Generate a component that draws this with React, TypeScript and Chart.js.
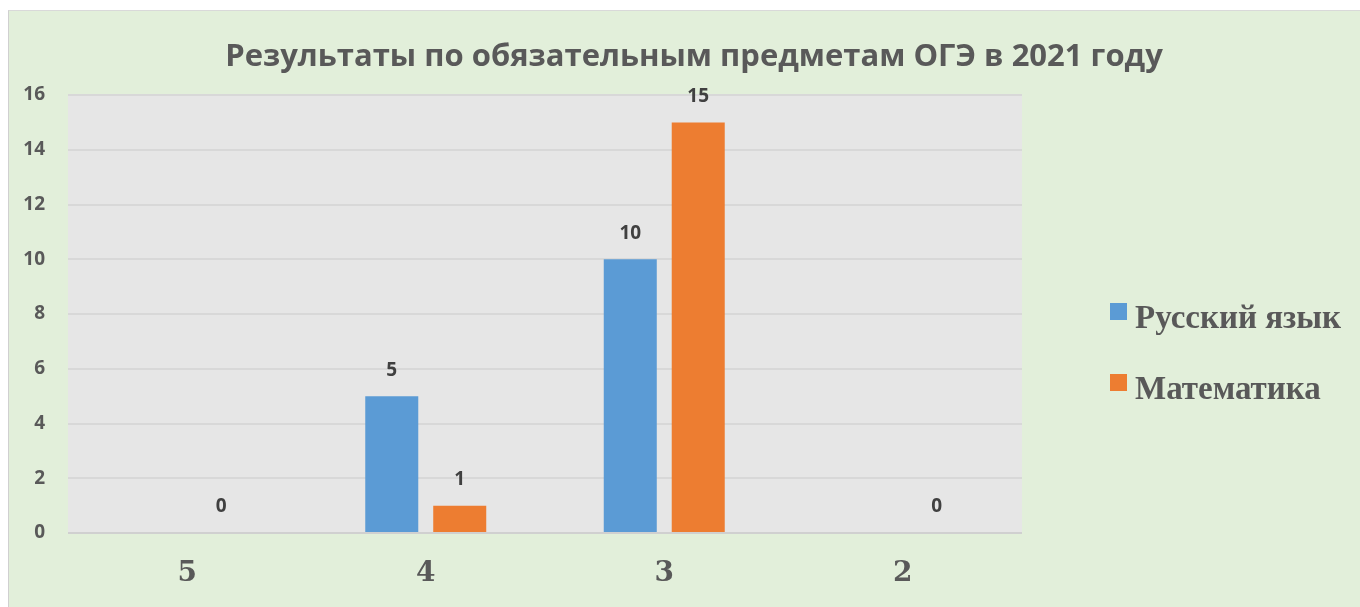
import React, { useEffect, useRef } from "react";
import { Chart, registerables } from "chart.js";

Chart.register(...registerables);

const TITLE = "Результаты по обязательным предметам ОГЭ в 2021 году";
const categories = ["5", "4", "3", "2"];
const russianLabel = "Русский язык";
const mathLabel = "Математика";
const russianValues: (number | null)[] = [null, 5, 10, null];
const mathValues: (number | null)[] = [0, 1, 15, 0];
const yTicks = [0, 2, 4, 6, 8, 10, 12, 14, 16];

const BLUE = "#5b9bd5";
const ORANGE = "#ed7d31";
const TEXT = "#595959";

const W = 1351;
const H = 596;

const decorPlugin = {
  id: "decor",
  beforeDraw(chart: any) {
    const { ctx, chartArea } = chart;
    ctx.save();
    ctx.fillStyle = "#e2efda";
    ctx.fillRect(0, 0, chart.width, chart.height);
    ctx.fillStyle = "#e6e6e6";
    ctx.fillRect(chartArea.left, chartArea.top, chartArea.right - chartArea.left, chartArea.bottom - chartArea.top);
    ctx.restore();
  },
  afterDraw(chart: any) {
    const { ctx } = chart;
    ctx.save();
    // title
    ctx.fillStyle = TEXT;
    ctx.font = "bold 31px 'Open Sans'";
    ctx.textAlign = "center";
    ctx.textBaseline = "alphabetic";
    ctx.fillText(TITLE, 685, 55);
    // data labels
    ctx.fillStyle = "#404040";
    ctx.font = "bold 19px 'Open Sans'";
    ctx.textBaseline = "middle";
    chart.data.datasets.forEach((ds: any, di: number) => {
      const meta = chart.getDatasetMeta(di);
      meta.data.forEach((bar: any, i: number) => {
        const v = ds.data[i];
        if (v === null || v === undefined) return;
        ctx.fillText(String(v), bar.x, bar.y - 26);
      });
    });
    // legend
    const items = [
      { label: russianLabel, color: BLUE, base: 317 },
      { label: mathLabel, color: ORANGE, base: 388 },
    ];
    ctx.font = "bold 33px 'Liberation Serif'";
    ctx.textAlign = "left";
    ctx.textBaseline = "alphabetic";
    items.forEach((it) => {
      ctx.fillStyle = it.color;
      ctx.fillRect(1101, it.base - 25, 17, 17);
      ctx.fillStyle = TEXT;
      ctx.fillText(it.label, 1126, it.base);
    });
    ctx.restore();
  },
};

export default function App() {
  const ref = useRef<HTMLCanvasElement | null>(null);
  useEffect(() => {
    if (!ref.current) return;
    const chart = new Chart(ref.current, {
      type: "bar",
      data: {
        labels: categories,
        datasets: [
          { label: russianLabel, data: russianValues, backgroundColor: BLUE, categoryPercentage: 0.57, barPercentage: 0.78 },
          { label: mathLabel, data: mathValues, backgroundColor: ORANGE, categoryPercentage: 0.57, barPercentage: 0.78 },
        ],
      },
      options: {
        responsive: false,
        animation: false,
        devicePixelRatio: 1,
        layout: { padding: { top: 84, right: 338, left: 0, bottom: 0 } },
        plugins: { legend: { display: false }, title: { display: false }, tooltip: { enabled: false } },
        scales: {
          x: {
            grid: { display: false },
            border: { display: false },
            ticks: { color: TEXT, font: { family: "'DejaVu Serif'", weight: "bold", size: 28 }, padding: 16 },
            afterFit: (s: any) => { s.height = 74; },
          },
          y: {
            min: 0,
            max: 16,
            afterBuildTicks: (s: any) => { s.ticks = yTicks.map((v) => ({ value: v })); },
            grid: {
              color: (c: any) => (c.tick && c.tick.value === 0 ? "#d0d0d0" : "#d8d8d8"),
              lineWidth: 2,
              drawTicks: false,
            },
            border: { display: false },
            ticks: { color: TEXT, font: { family: "'Open Sans'", weight: "bold", size: 19 }, padding: 23 },
            afterFit: (s: any) => { s.width = 59; },
          },
        },
      },
      plugins: [decorPlugin],
    } as any);
    return () => chart.destroy();
  }, []);
  return (
    <div
      style={{
        position: "fixed",
        left: 8,
        top: 10,
        right: 0,
        bottom: 0,
        borderLeft: "1px solid #d0d0d0",
        borderTop: "1px solid #d9d9d9",
        background: "#e2efda",
        overflow: "hidden",
      }}
    >
      <canvas ref={ref} width={W} height={H} style={{ display: "block", width: W, height: H }} />
    </div>
  );
}
